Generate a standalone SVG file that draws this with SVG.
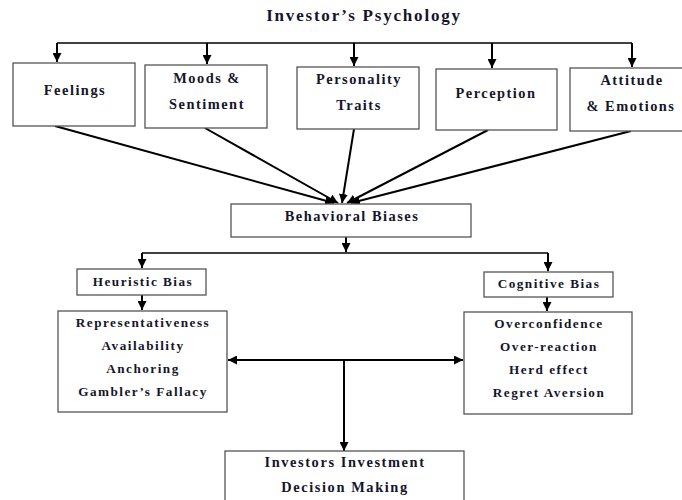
<svg xmlns="http://www.w3.org/2000/svg" width="682" height="500" viewBox="0 0 682 500">
<style>
  .box { fill: #ffffff; stroke: #555555; stroke-width: 1.3; }
  .t { font-family: "Liberation Serif", "Times New Roman", serif; font-weight: bold; fill: #15152a; text-anchor: middle; letter-spacing: 1.5px; }
  .t14 { font-size: 14.4px; }
  .t13 { font-size: 13.2px; }
  .title { font-size: 17px; letter-spacing: 1.8px; }
  .bottom { font-size: 14.4px; letter-spacing: 1.6px; }
  .c { stroke: #000000; stroke-width: 1.5; fill: none; }
  .c2 { stroke: #000000; stroke-width: 2; fill: none; }
  .ca { stroke: #000000; stroke-width: 2; fill: none; marker-end: url(#ah); }
</style>
<defs>
  <marker id="ah" viewBox="0 0 10 10" refX="10" refY="5" markerUnits="userSpaceOnUse" markerWidth="9" markerHeight="9" orient="auto">
    <path d="M0,0 L10,5 L0,10 z" fill="#000000"/>
  </marker>
  <marker id="ahs" viewBox="0 0 10 10" refX="0" refY="5" markerUnits="userSpaceOnUse" markerWidth="9" markerHeight="9" orient="auto">
    <path d="M10,0 L0,5 L10,10 z" fill="#000000"/>
  </marker>
</defs>
<rect width="682" height="500" fill="#ffffff"/>

<g id="title">
  <text class="t title" x="364" y="21">Investor’s Psychology</text>
</g>

<g id="connectors">
  <line class="c" x1="57" y1="43" x2="632" y2="43"/>
  <line class="ca" x1="57" y1="43" x2="57" y2="62"/>
  <line class="ca" x1="207" y1="43" x2="207" y2="64"/>
  <line class="ca" x1="354" y1="43" x2="354" y2="66"/>
  <line class="ca" x1="492" y1="43" x2="492" y2="68"/>
  <line class="ca" x1="632" y1="43" x2="632" y2="67"/>

  <line class="ca" x1="55" y1="126" x2="334" y2="203"/>
  <line class="ca" x1="205" y1="128" x2="338" y2="203"/>
  <line class="ca" x1="354" y1="129" x2="342" y2="203"/>
  <line class="ca" x1="488" y1="130" x2="347" y2="203"/>
  <line class="ca" x1="631" y1="131" x2="351" y2="203"/>

  <line class="ca" x1="346" y1="237" x2="346" y2="252"/>
  <line class="c" x1="142" y1="253" x2="548" y2="253"/>
  <line class="ca" x1="142" y1="253" x2="142" y2="268"/>
  <line class="ca" x1="548" y1="253" x2="548" y2="271"/>

  <line class="ca" x1="142" y1="295" x2="142" y2="310"/>
  <line class="ca" x1="547" y1="297" x2="547" y2="311"/>

  <line class="c2" x1="228" y1="360" x2="463" y2="360" marker-start="url(#ahs)" marker-end="url(#ah)"/>
  <line class="ca" x1="344" y1="360" x2="344" y2="451"/>
</g>

<g id="feelings">
  <rect class="box" x="13" y="63" width="122" height="63"/>
  <text class="t t14" x="75" y="95">Feelings</text>
</g>
<g id="moods">
  <rect class="box" x="145" y="65" width="122" height="63"/>
  <text class="t t14" x="207" y="83">Moods &amp;</text>
  <text class="t t14" x="207" y="109">Sentiment</text>
</g>
<g id="personality">
  <rect class="box" x="297" y="67" width="122" height="62"/>
  <text class="t t14" x="359" y="84">Personality</text>
  <text class="t t14" x="359" y="110">Traits</text>
</g>
<g id="perception">
  <rect class="box" x="436" y="69" width="121" height="61"/>
  <text class="t t14" x="496" y="98">Perception</text>
</g>
<g id="attitude">
  <rect class="box" x="570" y="68" width="122" height="63"/>
  <text class="t t14" x="632" y="85">Attitude</text>
  <text class="t t14" x="631" y="111">&amp; Emotions</text>
</g>

<g id="behavioral">
  <rect class="box" x="231" y="204" width="240" height="33"/>
  <text class="t t14" x="352" y="221">Behavioral Biases</text>
</g>

<g id="heuristic">
  <rect class="box" x="77" y="269" width="129" height="26"/>
  <text class="t t13" x="143" y="286">Heuristic Bias</text>
</g>
<g id="cognitive">
  <rect class="box" x="484" y="272" width="129" height="25"/>
  <text class="t t13" x="549" y="288">Cognitive Bias</text>
</g>

<g id="heuristic-list">
  <rect class="box" x="58" y="311" width="169" height="101"/>
  <text class="t t13" x="143" y="327">Representativeness</text>
  <text class="t t13" x="143" y="350">Availability</text>
  <text class="t t13" x="143" y="373">Anchoring</text>
  <text class="t t13" x="143" y="396">Gambler’s Fallacy</text>
</g>
<g id="cognitive-list">
  <rect class="box" x="464" y="312" width="168" height="102"/>
  <text class="t t13" x="549" y="328">Overconfidence</text>
  <text class="t t13" x="549" y="351">Over-reaction</text>
  <text class="t t13" x="549" y="374">Herd effect</text>
  <text class="t t13" x="549" y="397">Regret Aversion</text>
</g>

<g id="decision">
  <rect class="box" x="225" y="451" width="239" height="60"/>
  <text class="t bottom" x="345" y="467">Investors Investment</text>
  <text class="t bottom" x="345" y="492">Decision Making</text>
</g>
</svg>
